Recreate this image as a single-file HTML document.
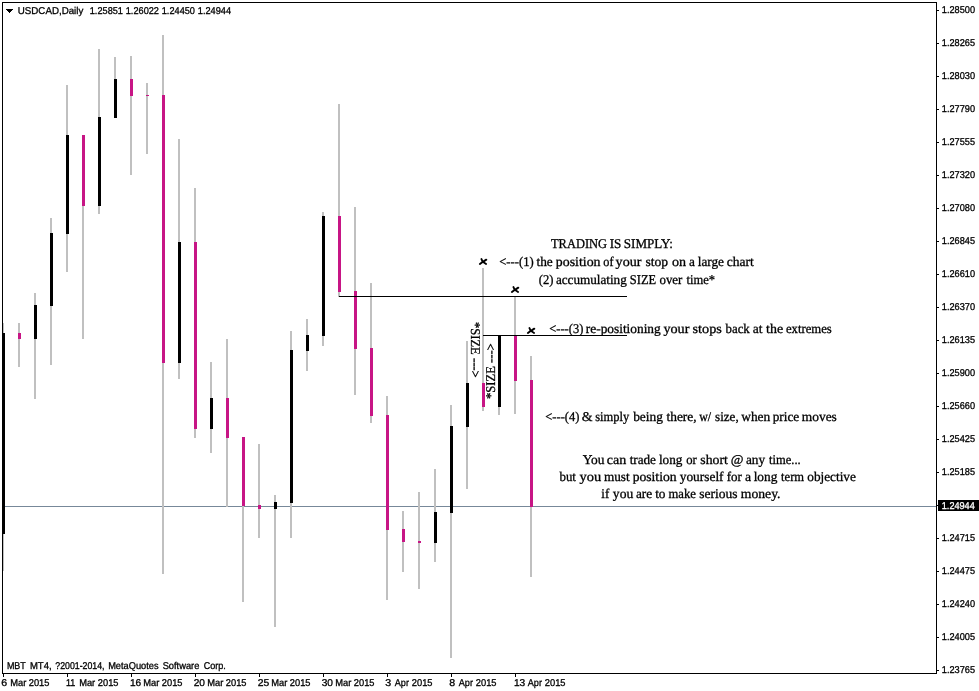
<!DOCTYPE html>
<html lang="en"><head><meta charset="utf-8"><title>USDCAD,Daily</title>
<style>
html,body{margin:0;padding:0;background:#fff;}
body{width:979px;height:691px;overflow:hidden;position:relative;}
svg{position:absolute;left:0;top:0;display:block;}
.s{font-family:"Liberation Sans",sans-serif;font-size:9.9px;fill:#000;stroke:#000;stroke-width:0.3px;text-rendering:geometricPrecision;}
.t{font-family:"Liberation Serif",serif;font-size:13.4px;fill:#000;stroke:#000;stroke-width:0.3px;text-rendering:geometricPrecision;}
.w{fill:#fff;stroke:#fff;}
.r rect{shape-rendering:crispEdges;}
</style></head><body>
<svg width="979" height="691" viewBox="0 0 979 691">
<rect x="0" y="0" width="979" height="691" fill="#fff"/>
<g class="r">
<rect x="3" y="506" width="933" height="1" fill="#778899"/>
<rect x="2" y="323" width="2" height="248" fill="#c0c0c0"/>
<rect x="18" y="323" width="2" height="44" fill="#c0c0c0"/>
<rect x="34" y="293" width="2" height="106" fill="#c0c0c0"/>
<rect x="50" y="218" width="2" height="147" fill="#c0c0c0"/>
<rect x="66" y="85" width="2" height="187" fill="#c0c0c0"/>
<rect x="82" y="135" width="2" height="204" fill="#c0c0c0"/>
<rect x="98" y="49" width="2" height="165" fill="#c0c0c0"/>
<rect x="114" y="57" width="2" height="61" fill="#c0c0c0"/>
<rect x="130" y="56" width="2" height="119" fill="#c0c0c0"/>
<rect x="146" y="83" width="2" height="71" fill="#c0c0c0"/>
<rect x="162" y="35" width="2" height="539" fill="#c0c0c0"/>
<rect x="178" y="139" width="2" height="240" fill="#c0c0c0"/>
<rect x="194" y="188" width="2" height="250" fill="#c0c0c0"/>
<rect x="210" y="362" width="2" height="91" fill="#c0c0c0"/>
<rect x="226" y="339" width="2" height="168" fill="#c0c0c0"/>
<rect x="242" y="437" width="2" height="165" fill="#c0c0c0"/>
<rect x="258" y="444" width="2" height="94" fill="#c0c0c0"/>
<rect x="274" y="495" width="2" height="132" fill="#c0c0c0"/>
<rect x="290" y="331" width="2" height="207" fill="#c0c0c0"/>
<rect x="306" y="319" width="2" height="52" fill="#c0c0c0"/>
<rect x="322" y="212" width="2" height="134" fill="#c0c0c0"/>
<rect x="338" y="104" width="2" height="193" fill="#c0c0c0"/>
<rect x="354" y="207" width="2" height="188" fill="#c0c0c0"/>
<rect x="370" y="283" width="2" height="140" fill="#c0c0c0"/>
<rect x="386" y="396" width="2" height="204" fill="#c0c0c0"/>
<rect x="402" y="511" width="2" height="61" fill="#c0c0c0"/>
<rect x="418" y="492" width="2" height="97" fill="#c0c0c0"/>
<rect x="434" y="469" width="2" height="93" fill="#c0c0c0"/>
<rect x="450" y="405" width="2" height="253" fill="#c0c0c0"/>
<rect x="466" y="341" width="2" height="148" fill="#c0c0c0"/>
<rect x="482" y="268" width="2" height="143" fill="#c0c0c0"/>
<rect x="498" y="336" width="2" height="79" fill="#c0c0c0"/>
<rect x="514" y="297" width="2" height="117" fill="#c0c0c0"/>
<rect x="530" y="356" width="2" height="221" fill="#c0c0c0"/>
<rect x="2" y="333" width="3" height="201" fill="#000"/>
<rect x="18" y="333" width="3" height="6" fill="#c71585"/>
<rect x="34" y="305" width="3" height="34" fill="#000"/>
<rect x="50" y="233" width="3" height="73" fill="#000"/>
<rect x="66" y="135" width="3" height="99" fill="#000"/>
<rect x="82" y="135" width="3" height="71" fill="#c71585"/>
<rect x="98" y="117" width="3" height="89" fill="#000"/>
<rect x="114" y="79" width="3" height="39" fill="#000"/>
<rect x="130" y="79" width="3" height="17" fill="#c71585"/>
<rect x="146" y="95" width="3" height="1" fill="#c71585"/>
<rect x="162" y="95" width="3" height="268" fill="#c71585"/>
<rect x="178" y="242" width="3" height="121" fill="#000"/>
<rect x="194" y="242" width="3" height="187" fill="#c71585"/>
<rect x="210" y="398" width="3" height="31" fill="#000"/>
<rect x="226" y="398" width="3" height="40" fill="#c71585"/>
<rect x="242" y="437" width="3" height="69" fill="#c71585"/>
<rect x="258" y="505" width="3" height="4" fill="#c71585"/>
<rect x="274" y="502" width="3" height="7" fill="#000"/>
<rect x="290" y="350" width="3" height="153" fill="#000"/>
<rect x="306" y="335" width="3" height="16" fill="#000"/>
<rect x="322" y="216" width="3" height="120" fill="#000"/>
<rect x="338" y="216" width="3" height="76" fill="#c71585"/>
<rect x="354" y="291" width="3" height="58" fill="#c71585"/>
<rect x="370" y="348" width="3" height="68" fill="#c71585"/>
<rect x="386" y="415" width="3" height="115" fill="#c71585"/>
<rect x="402" y="529" width="3" height="13" fill="#c71585"/>
<rect x="418" y="541" width="3" height="2" fill="#c71585"/>
<rect x="434" y="512" width="3" height="31" fill="#000"/>
<rect x="450" y="426" width="3" height="87" fill="#000"/>
<rect x="466" y="383" width="3" height="44" fill="#000"/>
<rect x="482" y="383" width="3" height="24" fill="#c71585"/>
<rect x="498" y="336" width="3" height="71" fill="#000"/>
<rect x="514" y="336" width="3" height="45" fill="#c71585"/>
<rect x="530" y="380" width="3" height="127" fill="#c71585"/>
<rect x="339" y="296" width="288" height="1" fill="#000"/>
<rect x="483" y="335" width="144" height="1" fill="#000"/>
<rect x="2" y="2" width="935" height="1" fill="#000"/>
<rect x="2" y="2" width="1" height="672" fill="#000"/>
<rect x="936" y="2" width="1" height="672" fill="#000"/>
<rect x="2" y="673" width="935" height="1" fill="#000"/>
<rect x="937" y="10" width="2" height="1" fill="#000"/>
<rect x="937" y="43" width="2" height="1" fill="#000"/>
<rect x="937" y="76" width="2" height="1" fill="#000"/>
<rect x="937" y="109" width="2" height="1" fill="#000"/>
<rect x="937" y="142" width="2" height="1" fill="#000"/>
<rect x="937" y="175" width="2" height="1" fill="#000"/>
<rect x="937" y="208" width="2" height="1" fill="#000"/>
<rect x="937" y="241" width="2" height="1" fill="#000"/>
<rect x="937" y="274" width="2" height="1" fill="#000"/>
<rect x="937" y="307" width="2" height="1" fill="#000"/>
<rect x="937" y="340" width="2" height="1" fill="#000"/>
<rect x="937" y="373" width="2" height="1" fill="#000"/>
<rect x="937" y="406" width="2" height="1" fill="#000"/>
<rect x="937" y="439" width="2" height="1" fill="#000"/>
<rect x="937" y="472" width="2" height="1" fill="#000"/>
<rect x="937" y="538" width="2" height="1" fill="#000"/>
<rect x="937" y="571" width="2" height="1" fill="#000"/>
<rect x="937" y="604" width="2" height="1" fill="#000"/>
<rect x="937" y="637" width="2" height="1" fill="#000"/>
<rect x="937" y="670" width="2" height="1" fill="#000"/>
<rect x="3" y="674" width="1" height="3" fill="#000"/>
<rect x="67" y="674" width="1" height="3" fill="#000"/>
<rect x="131" y="674" width="1" height="3" fill="#000"/>
<rect x="195" y="674" width="1" height="3" fill="#000"/>
<rect x="259" y="674" width="1" height="3" fill="#000"/>
<rect x="323" y="674" width="1" height="3" fill="#000"/>
<rect x="387" y="674" width="1" height="3" fill="#000"/>
<rect x="451" y="674" width="1" height="3" fill="#000"/>
<rect x="515" y="674" width="1" height="3" fill="#000"/>
<rect x="938" y="500" width="41" height="11" fill="#000"/>
<rect x="937" y="505" width="1" height="1" fill="#000"/>
</g>
<path d="M6 9h7l-3.5 4z" fill="#000" shape-rendering="crispEdges"/>
<text class="s" y="13.8"><tspan x="17.8" textLength="65.52" lengthAdjust="spacingAndGlyphs">USDCAD,Daily</tspan> <tspan x="89.77" textLength="33.19" lengthAdjust="spacingAndGlyphs">1.25851</tspan> <tspan x="125.77" textLength="33.19" lengthAdjust="spacingAndGlyphs">1.26022</tspan> <tspan x="161.77" textLength="33.19" lengthAdjust="spacingAndGlyphs">1.24450</tspan> <tspan x="197.77" textLength="33.35" lengthAdjust="spacingAndGlyphs">1.24944</tspan></text>
<text class="s" y="12.8"><tspan x="941.8" textLength="33.22" lengthAdjust="spacingAndGlyphs">1.28500</tspan></text>
<text class="s" y="45.8"><tspan x="941.8" textLength="33.22" lengthAdjust="spacingAndGlyphs">1.28265</tspan></text>
<text class="s" y="78.8"><tspan x="941.8" textLength="33.22" lengthAdjust="spacingAndGlyphs">1.28030</tspan></text>
<text class="s" y="111.8"><tspan x="941.8" textLength="33.22" lengthAdjust="spacingAndGlyphs">1.27790</tspan></text>
<text class="s" y="144.8"><tspan x="941.8" textLength="33.22" lengthAdjust="spacingAndGlyphs">1.27555</tspan></text>
<text class="s" y="177.8"><tspan x="941.8" textLength="33.22" lengthAdjust="spacingAndGlyphs">1.27320</tspan></text>
<text class="s" y="210.8"><tspan x="941.8" textLength="33.22" lengthAdjust="spacingAndGlyphs">1.27080</tspan></text>
<text class="s" y="243.8"><tspan x="941.8" textLength="33.22" lengthAdjust="spacingAndGlyphs">1.26845</tspan></text>
<text class="s" y="276.8"><tspan x="941.8" textLength="33.22" lengthAdjust="spacingAndGlyphs">1.26610</tspan></text>
<text class="s" y="309.8"><tspan x="941.8" textLength="33.22" lengthAdjust="spacingAndGlyphs">1.26370</tspan></text>
<text class="s" y="342.8"><tspan x="941.8" textLength="33.22" lengthAdjust="spacingAndGlyphs">1.26135</tspan></text>
<text class="s" y="375.8"><tspan x="941.8" textLength="33.22" lengthAdjust="spacingAndGlyphs">1.25900</tspan></text>
<text class="s" y="408.8"><tspan x="941.8" textLength="33.22" lengthAdjust="spacingAndGlyphs">1.25660</tspan></text>
<text class="s" y="441.8"><tspan x="941.8" textLength="33.22" lengthAdjust="spacingAndGlyphs">1.25425</tspan></text>
<text class="s" y="474.8"><tspan x="941.8" textLength="33.22" lengthAdjust="spacingAndGlyphs">1.25185</tspan></text>
<text class="s" y="540.8"><tspan x="941.8" textLength="33.22" lengthAdjust="spacingAndGlyphs">1.24715</tspan></text>
<text class="s" y="573.8"><tspan x="941.8" textLength="33.22" lengthAdjust="spacingAndGlyphs">1.24475</tspan></text>
<text class="s" y="606.8"><tspan x="941.8" textLength="33.22" lengthAdjust="spacingAndGlyphs">1.24240</tspan></text>
<text class="s" y="639.8"><tspan x="941.8" textLength="33.22" lengthAdjust="spacingAndGlyphs">1.24005</tspan></text>
<text class="s" y="672.8"><tspan x="941.8" textLength="33.22" lengthAdjust="spacingAndGlyphs">1.23765</tspan></text>
<text class="s w" y="508.8"><tspan x="941.81" textLength="32.98" lengthAdjust="spacingAndGlyphs">1.24944</tspan></text>
<text class="s" y="668.8"><tspan x="6.9" textLength="18.73" lengthAdjust="spacingAndGlyphs">MBT</tspan> <tspan x="29.93" textLength="21.65" lengthAdjust="spacingAndGlyphs">MT4,</tspan> <tspan x="55.26" textLength="49.3" lengthAdjust="spacingAndGlyphs">?2001-2014,</tspan> <tspan x="108.14" textLength="50.49" lengthAdjust="spacingAndGlyphs">MetaQuotes</tspan> <tspan x="162.67" textLength="36.65" lengthAdjust="spacingAndGlyphs">Software</tspan> <tspan x="203.73" textLength="22.1" lengthAdjust="spacingAndGlyphs">Corp.</tspan></text>
<text class="s" y="685.8"><tspan x="1.39" textLength="5.92" lengthAdjust="spacingAndGlyphs">6</tspan> <tspan x="10.18" textLength="16.08" lengthAdjust="spacingAndGlyphs">Mar</tspan> <tspan x="28.81" textLength="20.65" lengthAdjust="spacingAndGlyphs">2015</tspan></text>
<text class="s" y="685.8"><tspan x="66.01" textLength="9.26" lengthAdjust="spacingAndGlyphs">11</tspan> <tspan x="79.2" textLength="16.04" lengthAdjust="spacingAndGlyphs">Mar</tspan> <tspan x="97.84" textLength="20.6" lengthAdjust="spacingAndGlyphs">2015</tspan></text>
<text class="s" y="685.8"><tspan x="129.97" textLength="11.3" lengthAdjust="spacingAndGlyphs">16</tspan> <tspan x="143.18" textLength="16.09" lengthAdjust="spacingAndGlyphs">Mar</tspan> <tspan x="161.81" textLength="20.66" lengthAdjust="spacingAndGlyphs">2015</tspan></text>
<text class="s" y="685.8"><tspan x="193.72" textLength="11.28" lengthAdjust="spacingAndGlyphs">20</tspan> <tspan x="207.18" textLength="16.09" lengthAdjust="spacingAndGlyphs">Mar</tspan> <tspan x="225.81" textLength="20.66" lengthAdjust="spacingAndGlyphs">2015</tspan></text>
<text class="s" y="685.8"><tspan x="257.72" textLength="11.54" lengthAdjust="spacingAndGlyphs">25</tspan> <tspan x="271.17" textLength="16.1" lengthAdjust="spacingAndGlyphs">Mar</tspan> <tspan x="289.8" textLength="20.67" lengthAdjust="spacingAndGlyphs">2015</tspan></text>
<text class="s" y="685.8"><tspan x="321.72" textLength="11.28" lengthAdjust="spacingAndGlyphs">30</tspan> <tspan x="335.18" textLength="16.09" lengthAdjust="spacingAndGlyphs">Mar</tspan> <tspan x="353.81" textLength="20.66" lengthAdjust="spacingAndGlyphs">2015</tspan></text>
<text class="s" y="685.8"><tspan x="385.39" textLength="5.91" lengthAdjust="spacingAndGlyphs">3</tspan> <tspan x="394.78" textLength="14.16" lengthAdjust="spacingAndGlyphs">Apr</tspan> <tspan x="411.82" textLength="20.73" lengthAdjust="spacingAndGlyphs">2015</tspan></text>
<text class="s" y="685.8"><tspan x="449.39" textLength="5.91" lengthAdjust="spacingAndGlyphs">8</tspan> <tspan x="458.78" textLength="14.16" lengthAdjust="spacingAndGlyphs">Apr</tspan> <tspan x="475.82" textLength="20.73" lengthAdjust="spacingAndGlyphs">2015</tspan></text>
<text class="s" y="685.8"><tspan x="513.97" textLength="11.29" lengthAdjust="spacingAndGlyphs">13</tspan> <tspan x="527.77" textLength="14.17" lengthAdjust="spacingAndGlyphs">Apr</tspan> <tspan x="544.82" textLength="20.74" lengthAdjust="spacingAndGlyphs">2015</tspan></text>
<text class="t" y="247.8"><tspan x="550.99" textLength="56.06" lengthAdjust="spacingAndGlyphs">TRADING</tspan> <tspan x="609.73" textLength="11.66" lengthAdjust="spacingAndGlyphs">IS</tspan> <tspan x="623.83" textLength="49.0" lengthAdjust="spacingAndGlyphs">SIMPLY:</tspan></text>
<text class="t" y="265.8"><tspan x="499.27" textLength="34.36" lengthAdjust="spacingAndGlyphs">&lt;---(1)</tspan> <tspan x="536.49" textLength="16.27" lengthAdjust="spacingAndGlyphs">the</tspan> <tspan x="555.82" textLength="44.72" lengthAdjust="spacingAndGlyphs">position</tspan> <tspan x="603.29" textLength="10.18" lengthAdjust="spacingAndGlyphs">of</tspan> <tspan x="615.6" textLength="25.78" lengthAdjust="spacingAndGlyphs">your</tspan> <tspan x="645.51" textLength="22.66" lengthAdjust="spacingAndGlyphs">stop</tspan> <tspan x="672.01" textLength="14.07" lengthAdjust="spacingAndGlyphs">on</tspan> <tspan x="688.9" textLength="5.9" lengthAdjust="spacingAndGlyphs">a</tspan> <tspan x="697.73" textLength="26.21" lengthAdjust="spacingAndGlyphs">large</tspan> <tspan x="726.81" textLength="27.09" lengthAdjust="spacingAndGlyphs">chart</tspan></text>
<text class="t" y="283.8"><tspan x="538.71" textLength="14.69" lengthAdjust="spacingAndGlyphs">(2)</tspan> <tspan x="555.9" textLength="70.84" lengthAdjust="spacingAndGlyphs">accumulating</tspan> <tspan x="629.86" textLength="26.29" lengthAdjust="spacingAndGlyphs">SIZE</tspan> <tspan x="659.52" textLength="22.82" lengthAdjust="spacingAndGlyphs">over</tspan> <tspan x="686.46" textLength="28.57" lengthAdjust="spacingAndGlyphs">time*</tspan></text>
<text class="t" y="332.8"><tspan x="549.29" textLength="34.04" lengthAdjust="spacingAndGlyphs">&lt;---(3)</tspan> <tspan x="585.87" textLength="74.84" lengthAdjust="spacingAndGlyphs">re-positioning</tspan> <tspan x="663.43" textLength="26.03" lengthAdjust="spacingAndGlyphs">your</tspan> <tspan x="692.58" textLength="29.3" lengthAdjust="spacingAndGlyphs">stops</tspan> <tspan x="725.55" textLength="24.22" lengthAdjust="spacingAndGlyphs">back</tspan> <tspan x="752.7" textLength="9.76" lengthAdjust="spacingAndGlyphs">at</tspan> <tspan x="766.14" textLength="16.99" lengthAdjust="spacingAndGlyphs">the</tspan> <tspan x="786.01" textLength="45.73" lengthAdjust="spacingAndGlyphs">extremes</tspan></text>
<text class="t" y="420.8"><tspan x="545.32" textLength="34.07" lengthAdjust="spacingAndGlyphs">&lt;---(4)</tspan> <tspan x="581.81" textLength="10.79" lengthAdjust="spacingAndGlyphs">&amp;</tspan> <tspan x="595.25" textLength="34.0" lengthAdjust="spacingAndGlyphs">simply</tspan> <tspan x="633.14" textLength="29.76" lengthAdjust="spacingAndGlyphs">being</tspan> <tspan x="666.54" textLength="30.08" lengthAdjust="spacingAndGlyphs">there,</tspan> <tspan x="699.23" textLength="11.87" lengthAdjust="spacingAndGlyphs">w/</tspan> <tspan x="715.11" textLength="23.58" lengthAdjust="spacingAndGlyphs">size,</tspan> <tspan x="741.24" textLength="28.99" lengthAdjust="spacingAndGlyphs">when</tspan> <tspan x="772.68" textLength="26.51" lengthAdjust="spacingAndGlyphs">price</tspan> <tspan x="801.8" textLength="35.02" lengthAdjust="spacingAndGlyphs">moves</tspan></text>
<text class="t" y="463.8"><tspan x="582.66" textLength="21.76" lengthAdjust="spacingAndGlyphs">You</tspan> <tspan x="606.83" textLength="19.38" lengthAdjust="spacingAndGlyphs">can</tspan> <tspan x="629.69" textLength="26.23" lengthAdjust="spacingAndGlyphs">trade</tspan> <tspan x="658.95" textLength="23.47" lengthAdjust="spacingAndGlyphs">long</tspan> <tspan x="686.2" textLength="10.57" lengthAdjust="spacingAndGlyphs">or</tspan> <tspan x="700.34" textLength="27.55" lengthAdjust="spacingAndGlyphs">short</tspan> <tspan x="730.75" textLength="12.74" lengthAdjust="spacingAndGlyphs">@</tspan> <tspan x="745.91" textLength="19.18" lengthAdjust="spacingAndGlyphs">any</tspan> <tspan x="769.1" textLength="31.59" lengthAdjust="spacingAndGlyphs">time...</tspan></text>
<text class="t" y="480.8"><tspan x="559.47" textLength="16.48" lengthAdjust="spacingAndGlyphs">but</tspan> <tspan x="579.62" textLength="21.66" lengthAdjust="spacingAndGlyphs">you</tspan> <tspan x="603.94" textLength="25.71" lengthAdjust="spacingAndGlyphs">must</tspan> <tspan x="632.7" textLength="43.86" lengthAdjust="spacingAndGlyphs">position</tspan> <tspan x="679.76" textLength="43.82" lengthAdjust="spacingAndGlyphs">yourself</tspan> <tspan x="726.69" textLength="15.15" lengthAdjust="spacingAndGlyphs">for</tspan> <tspan x="745.0" textLength="6.1" lengthAdjust="spacingAndGlyphs">a</tspan> <tspan x="753.65" textLength="23.66" lengthAdjust="spacingAndGlyphs">long</tspan> <tspan x="781.12" textLength="22.94" lengthAdjust="spacingAndGlyphs">term</tspan> <tspan x="807.29" textLength="48.55" lengthAdjust="spacingAndGlyphs">objective</tspan></text>
<text class="t" y="497.8"><tspan x="601.35" textLength="7.91" lengthAdjust="spacingAndGlyphs">if</tspan> <tspan x="612.87" textLength="20.36" lengthAdjust="spacingAndGlyphs">you</tspan> <tspan x="636.0" textLength="16.16" lengthAdjust="spacingAndGlyphs">are</tspan> <tspan x="655.2" textLength="10.32" lengthAdjust="spacingAndGlyphs">to</tspan> <tspan x="668.48" textLength="27.37" lengthAdjust="spacingAndGlyphs">make</tspan> <tspan x="699.32" textLength="38.29" lengthAdjust="spacingAndGlyphs">serious</tspan> <tspan x="740.8" textLength="39.71" lengthAdjust="spacingAndGlyphs">money.</tspan></text>
<text class="t" transform="translate(471.2,321.89) rotate(90)" textLength="55.81" lengthAdjust="spacingAndGlyphs">*SIZE ---&gt;</text>
<text class="t" transform="translate(494.8,399.01) rotate(-90)" textLength="55.71" lengthAdjust="spacingAndGlyphs">*SIZE ---&gt;</text>
<g transform="translate(482.9,261.7)" stroke="#000" stroke-linecap="round" fill="none"><path d="M3.4 -2 L0 0.1 L-3 2.3" stroke-width="2" stroke-linejoin="round"/><path d="M-1.5 -2.7 L-0.1 0.1 L3.2 2.3" stroke-width="1.8" stroke-linejoin="round"/></g>
<g transform="translate(514.9,289.7)" stroke="#000" stroke-linecap="round" fill="none"><path d="M3.4 -2 L0 0.1 L-3 2.3" stroke-width="2" stroke-linejoin="round"/><path d="M-1.5 -2.7 L-0.1 0.1 L3.2 2.3" stroke-width="1.8" stroke-linejoin="round"/></g>
<g transform="translate(530.9,330.7)" stroke="#000" stroke-linecap="round" fill="none"><path d="M3.4 -2 L0 0.1 L-3 2.3" stroke-width="2" stroke-linejoin="round"/><path d="M-1.5 -2.7 L-0.1 0.1 L3.2 2.3" stroke-width="1.8" stroke-linejoin="round"/></g>
</svg>
</body></html>
